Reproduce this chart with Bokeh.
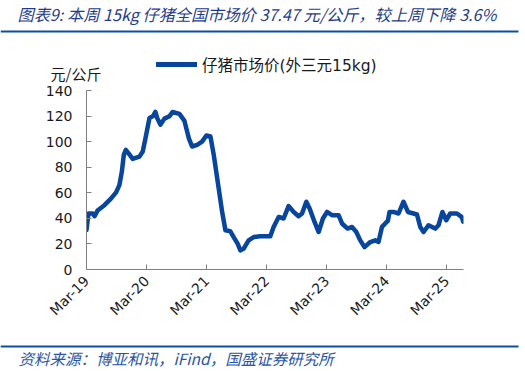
import math
import pandas as pd
from bokeh.plotting import figure
from bokeh.layouts import column
from bokeh.models import (FixedTicker, DatetimeTickFormatter, Label, BoxAnnotation,
                          Legend, LegendItem, Range1d, ColumnDataSource)
from bokeh.embed import file_html
from bokeh.resources import INLINE

# ---- data ----
dates = ["2019-03-01", "2019-03-13", "2019-04-08", "2019-04-19", "2019-05-09", "2019-06-18",
         "2019-07-29", "2019-08-28", "2019-09-17", "2019-10-02", "2019-10-14", "2019-10-26",
         "2019-11-11", "2019-12-07", "2020-01-17", "2020-02-06", "2020-02-23", "2020-03-18",
         "2020-04-07", "2020-04-23", "2020-05-04", "2020-05-24", "2020-06-17", "2020-07-17",
         "2020-08-06", "2020-09-16", "2020-10-16", "2020-11-12", "2020-12-02", "2021-01-02",
         "2021-02-01", "2021-02-27", "2021-03-24", "2021-04-13", "2021-05-13", "2021-06-03",
         "2021-06-23", "2021-07-23", "2021-08-12", "2021-09-05", "2021-09-22", "2021-10-12",
         "2021-11-11", "2021-12-12", "2022-01-21", "2022-03-23", "2022-04-12", "2022-05-13",
         "2022-06-12", "2022-07-12", "2022-08-12", "2022-09-11", "2022-10-02", "2022-10-28",
         "2022-11-17", "2022-12-17", "2023-01-11", "2023-02-06", "2023-03-03", "2023-04-02",
         "2023-05-12", "2023-06-02", "2023-07-06", "2023-08-02", "2023-08-28", "2023-09-21",
         "2023-10-17", "2023-11-21", "2023-12-21", "2024-01-10", "2024-01-31", "2024-02-20",
         "2024-03-07", "2024-03-17", "2024-04-10", "2024-05-11", "2024-06-10", "2024-07-07",
         "2024-08-10", "2024-08-31", "2024-09-20", "2024-10-10", "2024-11-09", "2024-12-20",
         "2025-01-09", "2025-02-02", "2025-02-25", "2025-03-21", "2025-05-01", "2025-05-31",
         "2025-06-08"]
prices = [31.0, 43.8, 43.8, 41.7, 46.4, 50.3,
          55.6, 60.3, 66.0, 76.5, 89.7, 93.6,
          91.0, 86.5, 88.3, 92.3, 102.8, 118.5,
          119.8, 123.2, 118.5, 113.3, 118.0, 119.8,
          123.2, 121.7, 116.5, 102.8, 96.2, 97.5,
          100.0, 104.8, 104.0, 89.7, 63.5, 45.0,
          30.7, 29.9, 25.4, 20.2, 15.0, 16.3,
          22.8, 25.4, 26.0, 26.0, 33.3, 41.1,
          39.9, 49.6, 45.0, 41.7, 43.8, 53.0,
          47.7, 37.2, 29.3, 39.9, 45.0, 42.5,
          42.5, 36.0, 32.0, 33.3, 29.3, 22.8,
          17.5, 21.5, 22.8, 21.5, 33.3, 36.0,
          38.0, 45.0, 45.0, 43.8, 53.0, 45.0,
          43.8, 43.0, 33.3, 29.3, 34.6, 32.0,
          34.6, 45.0, 38.5, 43.8, 43.8, 41.0,
          37.47]
tick_dates = ["2019-03-01", "2020-03-01", "2021-03-01", "2022-03-01",
              "2023-03-01", "2024-03-01", "2025-03-01"]
y_ticks = [0, 20, 40, 60, 80, 100, 120, 140]

title_text = "图表9:  本周 15kg 仔猪全国市场价 37.47 元/公斤，较上周下降 3.6%"
series_name = "仔猪市场价(外三元15kg)"
y_unit = "元/公斤"
source_text = "资料来源：博亚和讯，iFind，国盛证券研究所"

W = 525
BLUE = "#08459c"
RULE = "#0b4ea2"
CJK = "Noto Sans CJK SC"
MIX = "DejaVu Sans, Noto Sans CJK SC"


def blank(h):
    f = figure(width=W, height=h, output_backend="svg", toolbar_location=None,
               x_axis_location=None, y_axis_location=None, frame_align=False,
               min_border=0, min_border_left=0, min_border_right=0,
               min_border_top=0, min_border_bottom=0,
               x_range=Range1d(0, W), y_range=Range1d(0, h))
    f.outline_line_color = None
    f.xgrid.visible = False
    f.ygrid.visible = False
    f.background_fill_color = "white"
    f.border_fill_color = "white"
    return f


def rule(f, bottom, top):
    f.add_layout(BoxAnnotation(left=0, right=W - 7, bottom=bottom, top=top,
                               left_units="screen", right_units="screen",
                               bottom_units="screen", top_units="screen",
                               fill_color=RULE, fill_alpha=1, line_color=None))


# ---- header: title, rule, legend, unit ----
HH = 83
head = blank(HH)
head.add_layout(Label(x=17, y=HH - 13, x_units="screen", y_units="screen", text=title_text,
                      text_font=CJK, text_font_style="italic", text_font_size="16.2px",
                      text_color="#1f3c88", text_baseline="middle"))
rule(head, HH - 32, HH - 30)
head.add_layout(Label(x=50, y=HH - 73, x_units="screen", y_units="screen", text=y_unit,
                      text_font=CJK, text_font_size="15px", text_color="#1a1a1a",
                      text_baseline="middle"))
# legend key: a renderer with the series style (no points of its own)
key = head.line(x=[float("nan")], y=[float("nan")], line_color=BLUE, line_width=5,
                line_cap="round")
legend = Legend(items=[LegendItem(label=series_name, renderers=[key])],
                location=(156, HH - 65 - 10), padding=0, margin=0, spacing=0,
                glyph_width=41, glyph_height=20, label_height=20, label_standoff=5,
                border_line_color=None, background_fill_alpha=0,
                label_text_font=MIX, label_text_font_size="15.5px",
                label_text_color="#1a1a1a")
head.add_layout(legend)

# ---- main chart ----
MH = 257
FL, FT, FW, FH = 86, 7, 377, 179
x = pd.to_datetime(dates)
src = ColumnDataSource(dict(x=x, y=prices))

p = figure(width=W, height=MH, x_axis_type="datetime", output_backend="svg",
           toolbar_location=None, frame_align=False,
           min_border_left=FL, min_border_top=FT,
           min_border_right=W - FL - FW, min_border_bottom=MH - FT - FH)
p.x_range = Range1d(pd.Timestamp("2019-03-01"), pd.Timestamp("2025-06-10"))
p.y_range = Range1d(0, 140)
p.outline_line_color = None
p.xgrid.visible = False
p.ygrid.visible = False
p.background_fill_color = "white"
p.border_fill_color = "white"

p.line("x", "y", source=src, line_color=BLUE, line_width=4.5,
       line_join="round", line_cap="round")

for ax in (p.xaxis[0], p.yaxis[0]):
    ax.axis_line_color = "#808080"
    ax.major_tick_line_color = "#808080"
    ax.major_tick_in = 5
    ax.major_tick_out = 0
    ax.minor_tick_line_color = None
    ax.major_label_text_font = "DejaVu Sans"
    ax.major_label_text_font_size = "14px"
    ax.major_label_text_color = "#1a1a1a"

p.yaxis.ticker = FixedTicker(ticks=y_ticks)
p.yaxis.major_label_standoff = 14
p.xaxis.ticker = FixedTicker(ticks=[pd.Timestamp(d).value // 10**6 for d in tick_dates])
fmt = "%b-%y"
p.xaxis.formatter = DatetimeTickFormatter(years=fmt, months=fmt, days=fmt, hours=fmt,
                                          minutes=fmt, seconds=fmt, milliseconds=fmt)
p.xaxis.major_label_orientation = math.pi / 4
p.xaxis.major_label_standoff = 9

# ---- footer: rule and source ----
FHT = 31
foot = blank(FHT)
rule(foot, FHT - 7, FHT - 5)
foot.add_layout(Label(x=18, y=FHT - 17, x_units="screen", y_units="screen", text=source_text,
                      text_font=CJK, text_font_style="italic", text_font_size="15.5px",
                      text_color="#2a55a5", text_baseline="middle"))

layout = column(head, p, foot, spacing=0)
open("out.html", "w").write(file_html(layout, INLINE))
